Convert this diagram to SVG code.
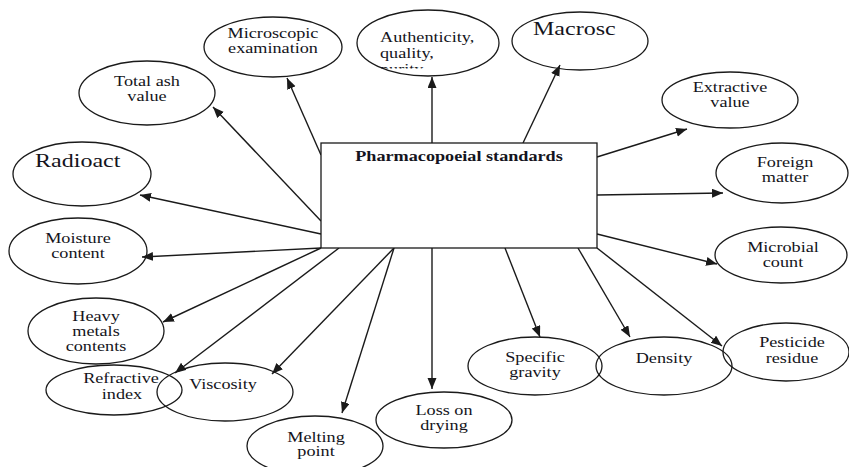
<svg xmlns="http://www.w3.org/2000/svg" width="849" height="467" viewBox="0 0 849 467">
<style>
.n{fill:none;stroke:#1a1a1a;stroke-width:1.3}
.b{fill:#fff;stroke:#1a1a1a;stroke-width:1.3}
text{font-family:'Liberation Serif','Times New Roman','DejaVu Serif',serif;font-size:14px;fill:#141420;text-anchor:middle}
.s{text-anchor:start}
.big{font-size:18.5px}
.bold{font-weight:bold}
.c line{stroke:#1a1a1a;stroke-width:1.4;marker-end:url(#ah)}
</style>
<defs>
<marker id="ah" markerUnits="userSpaceOnUse" markerWidth="12" markerHeight="10" refX="11" refY="4.5" orient="auto">
<path d="M0,0 L11,4.5 L0,9 Z" fill="#1a1a1a"/>
</marker>
<clipPath id="cl"><rect x="350" y="0" width="160" height="68.5"/></clipPath>
</defs>
<rect width="849" height="467" fill="#fff"/>
<g class="c" id="connectors">
<line x1="321" y1="155" x2="287" y2="78"/>
<line x1="321" y1="221" x2="213" y2="107"/>
<line x1="321" y1="234" x2="140" y2="195"/>
<line x1="321" y1="248" x2="142" y2="257"/>
<line x1="321" y1="248" x2="163" y2="322"/>
<line x1="339" y1="248" x2="175" y2="373"/>
<line x1="394" y1="248" x2="272" y2="374"/>
<line x1="394" y1="248" x2="342" y2="413"/>
<line x1="432" y1="248" x2="432" y2="389"/>
<line x1="505" y1="248" x2="540" y2="337"/>
<line x1="578" y1="248" x2="630" y2="337"/>
<line x1="597" y1="248" x2="722" y2="346"/>
<line x1="597" y1="234" x2="717" y2="264"/>
<line x1="597" y1="195" x2="723" y2="193"/>
<line x1="597" y1="157" x2="687" y2="129"/>
<line x1="523" y1="143" x2="560" y2="65"/>
<line x1="432" y1="143" x2="432" y2="77"/>
</g>
<g id="center">
<rect class="b" x="321" y="143" width="276" height="105"/>
<text font-family="Liberation Serif, serif" class="bold" transform="translate(459,161) scale(1.3,1)">Pharmacopoeial standards</text>
</g>
<g id="microscopic">
<ellipse class="n" cx="273" cy="47" rx="69" ry="30"/>
<text transform="translate(273,38) scale(1.3,1)">Microscopic</text>
<text transform="translate(273,53) scale(1.3,1)">examination</text>
</g>
<g id="totalash">
<ellipse class="n" cx="147" cy="93" rx="68" ry="32"/>
<text transform="translate(147,86) scale(1.3,1)">Total ash</text>
<text transform="translate(147,101) scale(1.3,1)">value</text>
</g>
<g id="authenticity">
<ellipse class="n" cx="428" cy="43" rx="71" ry="33"/>
<text class="s" transform="translate(380,42) scale(1.3,1)">Authenticity,</text>
<text class="s" transform="translate(380,58) scale(1.3,1)">quality,</text>
<g clip-path="url(#cl)"><text class="s" transform="translate(380,74) scale(1.3,1)">purity</text></g>
</g>
<g id="macrosc">
<ellipse class="n" cx="580" cy="41" rx="68" ry="29"/>
<text class="s big" transform="translate(533,35) scale(1.3,1)">Macrosc</text>
</g>
<g id="extractive">
<ellipse class="n" cx="730" cy="100" rx="68" ry="28"/>
<text transform="translate(730,92) scale(1.3,1)">Extractive</text>
<text transform="translate(730,107) scale(1.3,1)">value</text>
</g>
<g id="foreign">
<ellipse class="n" cx="782" cy="173" rx="66" ry="30"/>
<text transform="translate(785,167) scale(1.3,1)">Foreign</text>
<text transform="translate(785,182) scale(1.3,1)">matter</text>
</g>
<g id="microbial">
<ellipse class="n" cx="781" cy="255" rx="66" ry="28"/>
<text transform="translate(783,252) scale(1.3,1)">Microbial</text>
<text transform="translate(783,267) scale(1.3,1)">count</text>
</g>
<g id="pesticide">
<ellipse class="n" cx="786" cy="352" rx="63" ry="29"/>
<text transform="translate(792,347) scale(1.3,1)">Pesticide</text>
<text transform="translate(792,363) scale(1.3,1)">residue</text>
</g>
<g id="density">
<ellipse class="n" cx="664" cy="366" rx="68" ry="29"/>
<text transform="translate(664,363) scale(1.3,1)">Density</text>
</g>
<g id="specificgravity">
<ellipse class="n" cx="535" cy="366" rx="67" ry="29"/>
<text transform="translate(535,362) scale(1.3,1)">Specific</text>
<text transform="translate(535,377) scale(1.3,1)">gravity</text>
</g>
<g id="lossondrying">
<ellipse class="n" cx="444" cy="420" rx="68" ry="28"/>
<text transform="translate(444,415) scale(1.3,1)">Loss on</text>
<text transform="translate(444,430) scale(1.3,1)">drying</text>
</g>
<g id="meltingpoint">
<ellipse class="n" cx="315" cy="446" rx="68" ry="30"/>
<text transform="translate(316,442) scale(1.3,1)">Melting</text>
<text transform="translate(316,456) scale(1.3,1)">point</text>
</g>
<g id="viscosity">
<ellipse class="n" cx="225" cy="392" rx="68" ry="29"/>
<text transform="translate(223,389) scale(1.3,1)">Viscosity</text>
</g>
<g id="refractive">
<ellipse class="n" cx="114" cy="390" rx="68" ry="25"/>
<text transform="translate(121,383) scale(1.3,1)">Refractive</text>
<text transform="translate(122,399) scale(1.3,1)">index</text>
</g>
<g id="heavymetals">
<ellipse class="n" cx="96" cy="331" rx="68" ry="33"/>
<text transform="translate(96,321) scale(1.3,1)">Heavy</text>
<text transform="translate(96,336) scale(1.3,1)">metals</text>
<text transform="translate(96,351) scale(1.3,1)">contents</text>
</g>
<g id="moisture">
<ellipse class="n" cx="78" cy="251" rx="69" ry="33"/>
<text transform="translate(78,243) scale(1.3,1)">Moisture</text>
<text transform="translate(78,258) scale(1.3,1)">content</text>
</g>
<g id="radioact">
<ellipse class="n" cx="82" cy="174" rx="69" ry="32"/>
<text class="s big" transform="translate(35,167) scale(1.3,1)">Radioact</text>
</g>
</svg>
